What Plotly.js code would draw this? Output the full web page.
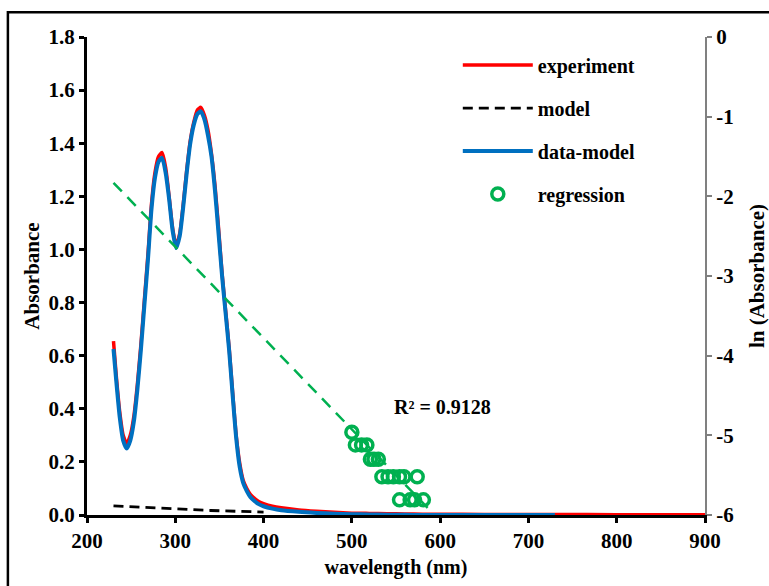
<!DOCTYPE html>
<html>
<head>
<meta charset="utf-8">
<script src="https://cdn.plot.ly/plotly-3.0.1.min.js"></script>
<style>html,body{margin:0;padding:0;background:#fff;}#chart{width:769px;height:586px;}</style>
</head>
<body>
<div id="chart"></div>
<script>
// Wavelength grid (nm)
const wavelength = [230,233,237,241,245,249,253,257,261,265,269,273,277,281,285,289,293,297,301,305,309,313,317,321,325,329,333,337,341,345,349,353,357,361,365,369,373,377,381,385,390,395,400,410,420,440,460,480,500,520,540,560,580,600,650,700,730,800,900];
// Experimental absorbance
const experiment = [0.655,0.53,0.39,0.30,0.27,0.30,0.37,0.49,0.64,0.81,0.98,1.17,1.29,1.35,1.365,1.31,1.20,1.08,1.015,1.06,1.17,1.30,1.41,1.48,1.525,1.535,1.505,1.45,1.36,1.24,1.08,0.91,0.77,0.63,0.46,0.30,0.195,0.13,0.10,0.078,0.062,0.05,0.043,0.033,0.027,0.019,0.014,0.010,0.007,0.006,0.005,0.004,0.003,0.003,0.002,0.002,0.002,0.001,0.001];
// data - model (ends at 730 nm)
const dataModel = [0.625,0.51,0.37,0.28,0.25,0.28,0.35,0.47,0.62,0.79,0.96,1.15,1.27,1.33,1.345,1.29,1.19,1.07,1.005,1.05,1.16,1.29,1.40,1.47,1.51,1.52,1.49,1.43,1.35,1.22,1.06,0.90,0.76,0.62,0.45,0.29,0.18,0.12,0.09,0.068,0.052,0.04,0.033,0.024,0.018,0.012,0.008,0.005,0.003,0.002,0.001,0.0005,0.0003,0.0002,0.0001,0.0001,0.0001,null,null];
// model (scattering baseline)
const modelX = [230,260,300,340,370,400];
const modelY = [0.034,0.029,0.022,0.017,0.014,0.011];
// regression points: ln(Absorbance)
const regX = [500,504,511,517,521,525,530,534,541,547,554,559,574,554,566,571,581];
const regY = [-4.96,-5.12,-5.12,-5.12,-5.30,-5.30,-5.30,-5.52,-5.52,-5.52,-5.52,-5.52,-5.52,-5.81,-5.81,-5.81,-5.81];
// regression trend line endpoints
const trendX = [230,592];
const trendY = [-1.83,-5.98];
const r2Text = 'R² = 0.9128';
// right axis ticks
const y2Ticks = [0,-1,-2,-3,-4,-5,-6];
const y2Labels = ['0','-1','-2','-3','-4','-5','-6'];

const FONT = 'Liberation Serif, Times New Roman, serif';
const bold = (size, color) => ({family: FONT, size: size, color: color || '#000', weight: 'bold'});

const traces = [
  {x: wavelength, y: experiment, type: 'scatter', mode: 'lines', name: 'experiment',
   line: {color: '#FF0000', width: 3.5, shape: 'spline', smoothing: 0.6}, legendgroup: 'a'},
  {x: modelX, y: modelY, type: 'scatter', mode: 'lines', name: 'model',
   line: {color: '#000000', width: 2.8, dash: '10px,6px'}, legendgroup: 'b'},
  {x: wavelength, y: dataModel, type: 'scatter', mode: 'lines', name: 'data-model',
   line: {color: '#0070C0', width: 4, shape: 'spline', smoothing: 0.6}, legendgroup: 'c'},
  {x: regX, y: regY, type: 'scatter', mode: 'markers', name: 'regression', yaxis: 'y2',
   marker: {symbol: 'circle-open', size: 12, color: '#00B050', line: {color: '#00B050', width: 3.5}}, legendgroup: 'd'},
  {x: trendX, y: trendY, type: 'scatter', mode: 'lines', yaxis: 'y2', showlegend: false,
   line: {color: '#00B050', width: 2.5, dash: '12px,8px'}}
];

const layout = {
  width: 769, height: 586,
  margin: {l: 87, r: 64, t: 37, b: 71},
  paper_bgcolor: '#fff', plot_bgcolor: '#fff',
  showlegend: true,
  legend: {x: 0.6, y: 0.982, xanchor: 'left', yanchor: 'top', font: bold(20),
           bgcolor: 'rgba(0,0,0,0)', tracegroupgap: 14, itemwidth: 70},
  xaxis: {range: [200, 900], dtick: 100, showgrid: false, zeroline: false,
          showline: true, linecolor: '#000', linewidth: 3, ticks: 'outside', ticklen: 5, tickwidth: 3, tickcolor: '#000',
          tickfont: bold(21), title: {text: 'wavelength (nm)', font: bold(20), standoff: 8}},
  yaxis: {range: [0, 1.8], dtick: 0.2, tickformat: '.1f', showgrid: false, zeroline: false,
          showline: true, linecolor: '#000', linewidth: 3, ticks: 'outside', ticklen: 5, tickwidth: 3, tickcolor: '#000',
          tickfont: bold(21), title: {text: 'Absorbance', font: bold(21), standoff: 4}},
  yaxis2: {range: [-6, 0], tickvals: y2Ticks, ticktext: y2Labels, overlaying: 'y', side: 'right', showgrid: false, zeroline: false,
           showline: true, linecolor: '#808080', linewidth: 2, ticks: 'outside', ticklen: 5, tickwidth: 2, tickcolor: '#808080',
           tickfont: bold(21), title: {text: 'ln (Absorbance)', font: bold(21), standoff: 16}},
  annotations: [
    {xref: 'x', yref: 'y', x: 603, y: 0.405, text: r2Text, showarrow: false, font: bold(20)}
  ],
  shapes: [
    {type: 'rect', xref: 'paper', yref: 'paper', x0: -0.128, x1: 1.3, y0: -0.5, y1: 1.052,
     line: {color: '#000', width: 2.5}, fillcolor: 'rgba(0,0,0,0)', layer: 'below'}
  ]
};

Plotly.newPlot('chart', traces, layout, {displayModeBar: false, staticPlot: true});
</script>
</body>
</html>
